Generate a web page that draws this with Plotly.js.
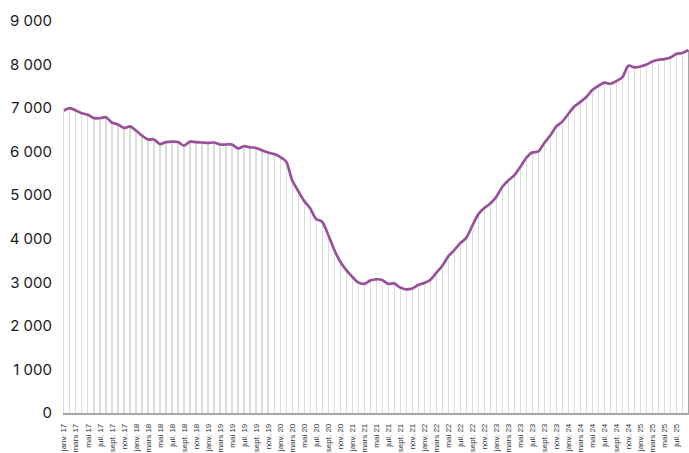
<!DOCTYPE html>
<html>
<head>
<meta charset="utf-8">
<script src="https://cdn.plot.ly/plotly-3.0.1.min.js"></script>
<style>html,body{margin:0;padding:0;background:#fff;}#chart{width:689px;height:453px;}</style>
</head>
<body>
<div id="chart"></div>
<script>
// Month names (French) and years used for the category labels
const monthNames = ['janv.','févr.','mars','avr.','mai','juin','juil.','août','sept.','oct.','nov.','déc.'];
const years = ['17','18','19','20','21','22','23','24','25'];

// Monthly values, janv. 17 -> sept. 25
const values = [
  6940, 7000, 6945, 6880, 6845, 6770, 6770, 6790, 6670, 6625, 6545, 6580,
  6485, 6370, 6280, 6280, 6175, 6220, 6230, 6220, 6140, 6230, 6220, 6210,
  6200, 6210, 6165, 6165, 6165, 6075, 6125, 6100, 6085, 6030, 5980, 5945,
  5880, 5775, 5350, 5100, 4870, 4700, 4455, 4390, 4100, 3755, 3480, 3285,
  3130, 3000, 2965, 3040, 3070, 3055, 2965, 2975, 2880, 2840, 2860, 2940,
  2985, 3055, 3215, 3375, 3595, 3740, 3900, 4020, 4295, 4560, 4705, 4810,
  4960, 5190, 5340, 5455, 5650, 5855, 5980, 6005, 6200, 6370, 6580, 6690,
  6865, 7035, 7140, 7255, 7415, 7510, 7585, 7560, 7620, 7705, 7975, 7935,
  7955, 8000, 8070, 8110, 8125, 8160, 8245, 8265, 8335
];

const labels = [];
years.forEach(y => monthNames.forEach(m => labels.push(m + ' ' + y)));
labels.length = values.length;
const idx = values.map((_, i) => i);
const tickIdx = idx.filter(i => i % 2 === 0);
const tickText = tickIdx.map(i => labels[i]);
const barColors = values.map((_, i) => i === values.length - 1 ? '#a6a6a6' : '#dcdcdc');

const drop = {
  type: 'bar', x: idx, y: values, width: 0.19,
  marker: {color: barColors, line: {width: 0}},
  hoverinfo: 'skip', showlegend: false
};
const line = {
  type: 'scatter', mode: 'lines', x: idx, y: values,
  line: {color: '#98509a', width: 2.7, shape: 'spline', smoothing: 0.8},
  showlegend: false
};

const layout = {
  width: 689, height: 453,
  margin: {l: 63, r: 0, t: 21, b: 40, pad: 0},
  paper_bgcolor: '#fff', plot_bgcolor: '#fff',
  separators: ', ',
  font: {family: 'Inter, "Liberation Sans", Arial, sans-serif', color: '#1a1a1a'},
  bargap: 0,
  xaxis: {
    range: [-0.15, 104.1], showgrid: false, zeroline: false,
    showline: true, linecolor: '#a6a6a6', linewidth: 1.5,
    tickmode: 'array', tickvals: tickIdx, ticktext: tickText,
    tickangle: -90, ticks: '', ticklabelstandoff: 6,
    tickfont: {size: 8, color: '#333333', family: '"Liberation Sans", Arial, sans-serif'}
  },
  yaxis: {
    range: [0, 9000], dtick: 1000, tickformat: ',d',
    showgrid: false, zeroline: false, showline: false, ticks: '',
    ticklabelstandoff: 10,
    tickfont: {size: 15, color: '#1a1a1a'}
  }
};

Plotly.newPlot('chart', [drop, line], layout, {displayModeBar: false, staticPlot: true});
</script>
</body>
</html>
